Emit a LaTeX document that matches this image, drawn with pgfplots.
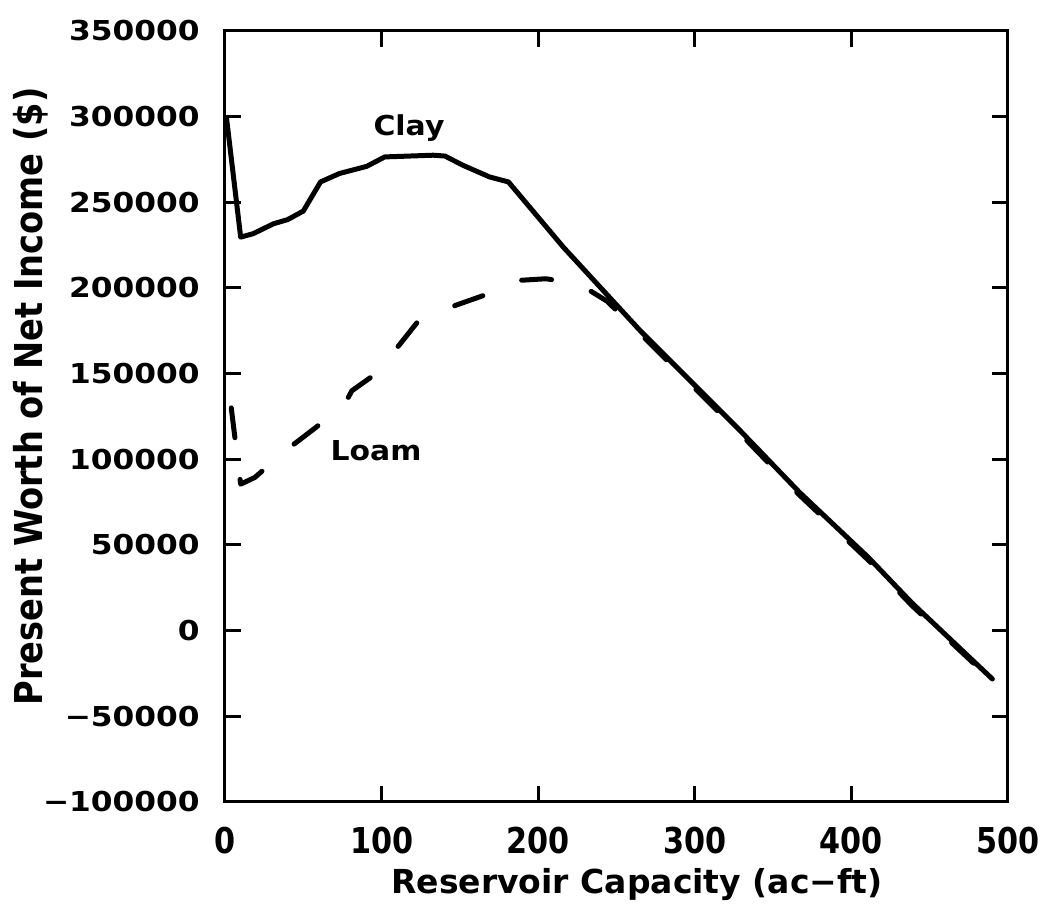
\documentclass[border=0pt]{standalone}
\usepackage{fontspec}
\setmainfont{DejaVu Sans}
\usepackage{graphicx}
\usepackage{pgfplots}
\pgfplotsset{compat=1.18}
\newcommand\hs[2]{\scalebox{#1}[1]{#2}}
\newcommand\yt[1]{\hs{1.14}{#1}}
\newcommand\xt[1]{\hs{0.85}{#1}}

\pgfplotstableread{
x y
1 299000
10 229700
18 231700
31 237500
40 239900
50 244900
61 261900
73 266800
90.5 271000
102 276500
133 277500
140.5 277000
152 271600
169 264800
181 261900
216 223900
265 175200
329 116700
367 80600
411 42600
438.5 16300
490 -28200
}\clay

\pgfplotstableread{
x y
4 130000
10 85500
19 89400
40 106000
58 118600
77 133200
81 140000
93 147800
111 166400
124 181400
147 189800
165 195600
187 204400
205 205400
226 202400
244 192300
265 173500
329 115000
367 79000
411 41000
438.5 14800
478 -19000
}\loam

\begin{document}
\begin{tikzpicture}
\begin{axis}[
  name=ax, at={(0,0)}, anchor=south west,
  scale only axis, width=391.5pt, height=385.5pt,
  xmin=0, xmax=500, ymin=-100000, ymax=350000,
  clip=false,
  scaled x ticks=false, scaled y ticks=false,
  xtick={0,100,200,300,400,500},
  xticklabels={\xt{0},\xt{100},\xt{200},\xt{300},\xt{400},\xt{500}},
  ytick={-100000,-50000,0,50000,100000,150000,200000,250000,300000,350000},
  yticklabels={\yt{−100000},\yt{−50000},\yt{0},\yt{50000},\yt{100000},\yt{150000},\yt{200000},\yt{250000},\yt{300000},\yt{350000}},
  axis line style={line width=1.5pt},
  tick style={line width=1.5pt, black},
  major tick length=8pt,
  tick align=inside,
  xticklabel style={anchor=north, inner sep=0pt, yshift=-12.5pt, font=\fontsize{17.8}{20}\selectfont\bfseries},
  yticklabel style={anchor=east, inner sep=0pt, xshift=-12.5pt, font=\fontsize{13.7}{16}\selectfont\bfseries},
  xlabel={\hs{1.0}{Reservoir Capacity (ac−ft)}},
  xlabel style={at={(axis description cs:0.526,-0.085)}, anchor=north, inner sep=0pt, font=\fontsize{16.5}{18}\selectfont\bfseries},
  ylabel={\hs{0.877}{Present Worth of Net Income (\$)}},
  ylabel style={at={(axis description cs:-0.2478,0.526)}, anchor=center, inner sep=0pt, font=\fontsize{19.2}{21}\selectfont\bfseries},
]
\addplot[black, line width=2.5pt, line join=round, line cap=round] table[x=x,y=y] {\clay};
\addplot[black, line width=2.5pt, line join=round, line cap=round, dash pattern={on 15pt off 21pt}] table[x=x,y=y] {\loam};
\node[anchor=base, inner sep=0pt, font=\fontsize{13.7}{16}\selectfont\bfseries] at (axis cs:117.5,289200) {\hs{1.09}{Clay}};
\node[anchor=base, inner sep=0pt, font=\fontsize{13.7}{16}\selectfont\bfseries] at (axis cs:96.4,99100) {\hs{1.09}{Loam}};
\end{axis}
\pgfresetboundingbox
\useasboundingbox (ax.south west) ++(-112.5pt,-53.5pt) rectangle ++(521.5pt,454.5pt);
\end{tikzpicture}
\end{document}
